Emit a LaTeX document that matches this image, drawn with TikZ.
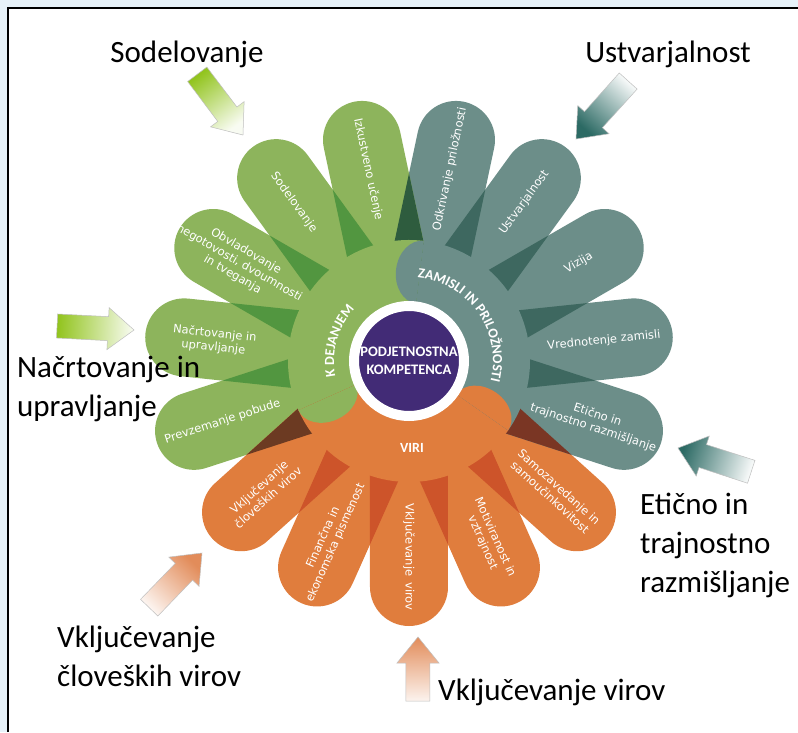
\documentclass[tikz,border=0pt]{standalone}
\usepackage{fontspec}
\usetikzlibrary{decorations.text}
\newfontfamily\bigfont{Carlito}
\newfontfamily\leaffont{DejaVu Sans}

\definecolor{paleblue}{RGB}{231,242,249}
\definecolor{leafgreen}{RGB}{141,180,92}
\definecolor{leafgray}{RGB}{108,142,137}
\definecolor{leaforange}{RGB}{224,125,61}
\definecolor{coreviolet}{RGB}{66,43,118}
\definecolor{shadegreen}{RGB}{82,150,64}
\definecolor{shadegray}{RGB}{62,104,96}
\definecolor{shadeorange}{RGB}{205,84,42}
\definecolor{shadegg}{RGB}{46,92,62}
\definecolor{shadego}{RGB}{108,58,34}
\definecolor{shadeog}{RGB}{122,54,36}
\definecolor{sprout}{RGB}{146,196,30}
\definecolor{deepteal}{RGB}{44,106,100}
\definecolor{clay}{RGB}{226,140,90}

\newcommand{\petal}{(0,-39) -- (226,-39) arc[start angle=-90,end angle=90,radius=39] -- (0,39) -- cycle}
\newcommand{\arrowshape}[1]{(0,0) -- (-26,-21) -- (-26,-12) -- (-#1,-12) -- (-#1,12) -- (-26,12) -- (-26,21) -- cycle}
\newcommand{\ringfont}{\bigfont\bfseries\fontsize{14}{14}\selectfont\color{white}}

\tikzset{
  leaftext/.style={text=white, align=center, inner sep=0pt, font=\leaffont\fontsize{11.5}{13.5}\selectfont},
  biglabel/.style={align=left, inner sep=0pt, font=\bigfont\fontsize{31}{39}\selectfont},
  pointer/.style={draw=black!25, line width=0.5pt},
}

\begin{document}
\begin{tikzpicture}[x=1pt,y=1pt]
\useasboundingbox (-409,-371) rectangle (389,361);
\fill[paleblue] (-409,-371) rectangle (389,361);
\fill[white] (-401,-371) rectangle (389,353);
\draw[line width=1.2pt] (-401,-371) -- (-401,353) -- (389,353);

\foreach \ang/\col in {6/leafgray, 30/leafgray, 54/leafgray, 78/leafgray, 102/leafgreen, 126/leafgreen, 150/leafgreen, 174/leafgreen, 198/leafgreen, 222/leaforange, 246/leaforange, 270/leaforange, 294/leaforange, 318/leaforange, 342/leafgray}
  \fill[\col, rotate=\ang] \petal;

\foreach \ang/\col in {6/shadegray, 30/shadegray, 54/shadegray, 78/shadegg, 102/shadegreen, 126/shadegreen, 150/shadegreen, 174/shadegreen, 198/shadego, 222/shadeorange, 246/shadeorange, 270/shadeorange, 294/shadeorange, 318/shadeog, 342/shadegray}
{
  \begin{scope}
    \clip[rotate=\ang] \petal;
    \fill[\col, rotate=\ang+24] \petal;
  \end{scope}
}

\fill[leafgreen] (83:121) arc[start angle=83,end angle=204,radius=121] -- (204:58) arc[start angle=204,end angle=83,radius=58] -- cycle;
\fill[leaforange] (204:121) arc[start angle=204,end angle=325,radius=121] -- (325:58) arc[start angle=325,end angle=204,radius=58] -- cycle;
\fill[leafgray] (325:121) arc[start angle=325,end angle=443,radius=121] -- (443:58) arc[start angle=443,end angle=325,radius=58] -- cycle;
\foreach \ang/\col in {83/leafgray, 204/leafgreen, 325/leaforange}
  \fill[\col, shift={(\ang:89.5)}, rotate=\ang] (31.5,0) arc[start angle=0,end angle=180,x radius=31.5,y radius=24] -- cycle;

\node[circle, minimum size=110pt, fill=coreviolet, draw=white, line width=10pt, align=center, text=white, font=\bigfont\bfseries\fontsize{14.5}{18}\selectfont] (core) at (0,0) {PODJETNOSTNA\\KOMPETENCA};

\path[decorate, decoration={text along path, text align=center, text={|\ringfont|ZAMISLI IN PRILOŽNOSTI}}] (100:84) arc[start angle=100,end angle=-30,radius=84];
\path[decorate, decoration={text along path, text align=center, text={|\ringfont|K DEJANJEM}}] (214:75) arc[start angle=214,end angle=114,radius=75];
\node[text=white, font=\ringfont] (viri) at (3,-87) {VIRI};

\foreach \ang/\rot/\txt [count=\i] in {6/6/{Vrednotenje zamisli}, 30/30/Vizija, 54/54/Ustvarjalnost, 78/78/{Odkrivanje priložnosti}, 102/-78/{Izkustveno učenje}, 126/-54/Sodelovanje, 150/-30/{Obvladovanje\\negotovosti, dvoumnosti\\in tveganja}, 174/-6/{Načrtovanje in\\upravljanje}, 198/18/{Prevzemanje pobude}, 222/42/{Vključevanje\\človeških virov}, 246/66/{Finančna in\\ekonomska pismenost}, 270/-90/{Vključevanje\enspace virov}, 294/-66/{Motiviranost in\\vztrajnost}, 318/-42/{Samozavedanje in\\samoučinkovitost}, 342/-18/{Etično in\\trajnostno razmišljanje}}
  \node[leaftext, rotate=\rot] (leaf\i) at (\ang:196) {\txt};

\shade[pointer, shift={(-166,226)}, rotate=-53, top color=sprout!6, bottom color=sprout, shading angle=-143] \arrowshape{76};
\shade[pointer, shift={(167,222)}, rotate=228, top color=deepteal, bottom color=deepteal!5, shading angle=138] \arrowshape{78};
\shade[pointer, shift={(-275,31)}, rotate=-3, top color=sprout!6, bottom color=sprout, shading angle=-93] \arrowshape{77};
\shade[pointer, shift={(269,-87)}, rotate=162, top color=deepteal, bottom color=deepteal!5, shading angle=72] \arrowshape{77};
\shade[pointer, shift={(-207,-192)}, rotate=46, top color=clay, bottom color=clay!10, shading angle=-44] \arrowshape{76};
\shade[pointer, shift={(9,-276)}, rotate=90, top color=clay, bottom color=clay!10, shading angle=0] \arrowshape{64};

\node[biglabel] (coop) at (-222,307) {Sodelovanje};
\node[biglabel] (create) at (259,307) {Ustvarjalnost};
\node[biglabel, anchor=west] (plan) at (-392,-28) {Načrtovanje in\\upravljanje};
\node[biglabel, anchor=west] (ethic) at (231,-184) {Etično in\\trajnostno\\razmišljanje};
\node[biglabel, anchor=west] (people) at (-352,-295) {Vključevanje\\človeških virov};
\node[biglabel, anchor=west] (assets) at (29,-331) {Vključevanje virov};
\end{tikzpicture}
\end{document}
